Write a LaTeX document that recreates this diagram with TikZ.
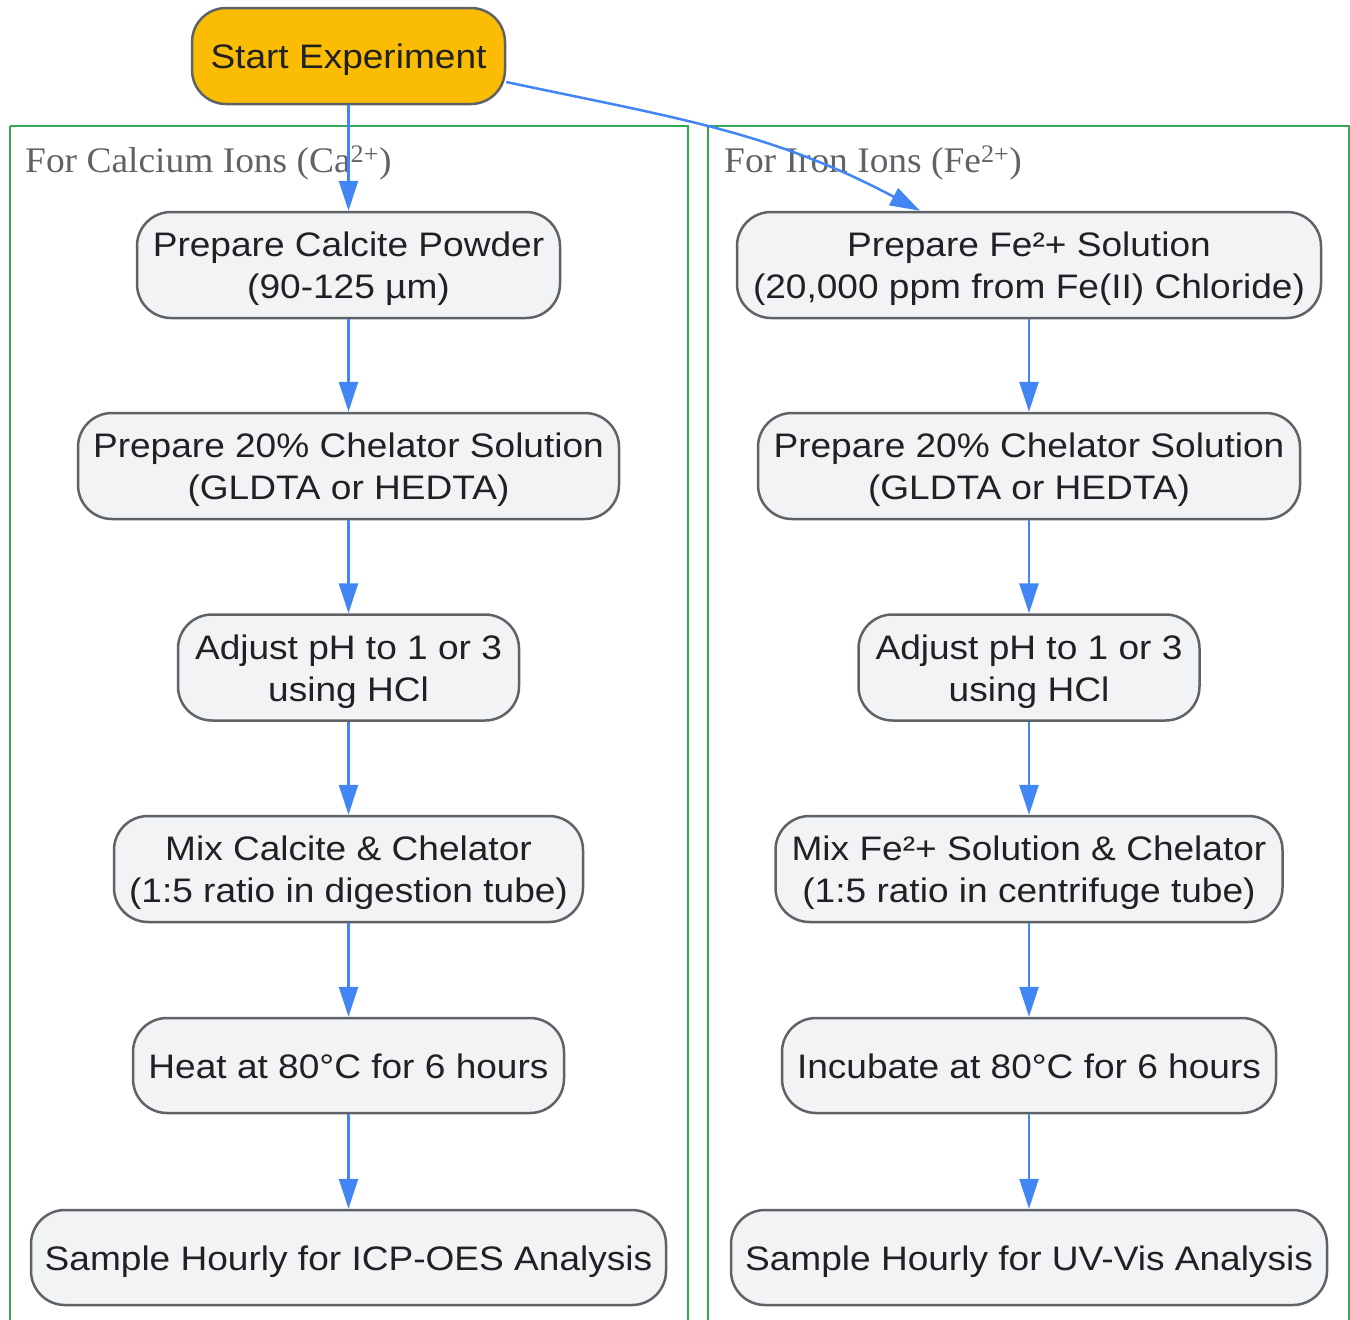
\documentclass[tikz,border=0pt]{standalone}
\usepackage{fontspec}
\setmainfont{Liberation Sans}[FakeStretch=1.09]
\newfontfamily\labelfont{Liberation Serif}[FakeStretch=1.04]
\usetikzlibrary{arrows.meta}
\definecolor{nodefill}{HTML}{F1F3F4}
\definecolor{nodeborder}{HTML}{5F6368}
\definecolor{nodetext}{HTML}{202124}
\definecolor{startfill}{HTML}{FBBC04}
\definecolor{clustergreen}{HTML}{34A853}
\definecolor{arrowblue}{HTML}{4285F4}
\definecolor{labelgray}{HTML}{5F6368}
\tikzset{
  stepbox/.style={draw=nodeborder, line width=2.5pt, fill=nodefill, rounded corners=34pt,
    text=nodetext, align=center, inner sep=0pt, text height=25pt, text depth=-4pt,
    font=\fontsize{34}{42}\selectfont},
  twoline/.style={stepbox, text height=67pt, text depth=-4pt},
  startbox/.style={stepbox, fill=startfill},
  cluster/.style={draw=clustergreen, line width=2pt},
  clusterlabel/.style={anchor=base west, text=labelgray, inner sep=0pt, font=\labelfont\fontsize{36}{42}\selectfont},
  flow/.style={draw=arrowblue, line width=2.5pt, -{Triangle[length=30pt,width=19pt]}},
}
\begin{document}
\begin{tikzpicture}[x=1pt,y=-1pt]
\useasboundingbox (0,0) rectangle (1350,1320);
% clusters
\draw[cluster] (10,126) -- (10,1340) (10,126) -- (688,126) -- (688,1340);
\draw[cluster] (708,126) -- (708,1340) (708,126) -- (1348.5,126) -- (1348.5,1340);
\node[clusterlabel] (labL) at (25,172) {For Calcium Ions (Ca\textsuperscript{2+})};
\node[clusterlabel] (labR) at (724,172) {For Iron Ions (Fe\textsuperscript{2+})};
% start
\node[startbox, minimum width=313pt, minimum height=96pt] (start) at (348.5,56) {Start Experiment};
% left column
\node[twoline, minimum width=423pt, minimum height=106pt] (L1) at (348.5,265) {Prepare Calcite Powder\\(90-125 µm)};
\node[twoline, minimum width=541pt, minimum height=106pt] (L2) at (348.5,466) {Prepare 20\% Chelator Solution\\(GLDTA or HEDTA)};
\node[twoline, minimum width=341pt, minimum height=106pt] (L3) at (348.5,667.5) {Adjust pH to 1 or 3\\using HCl};
\node[twoline, minimum width=469pt, minimum height=106pt] (L4) at (348.5,869) {Mix Calcite \& Chelator\\(1:5 ratio in digestion tube)};
\node[stepbox, minimum width=431pt, minimum height=95pt] (L5) at (348.5,1065.5) {Heat at 80°C for 6 hours};
\node[stepbox, minimum width=635pt, minimum height=95pt] (L6) at (348.5,1257.5) {Sample Hourly for ICP-OES Analysis};
% right column
\node[twoline, minimum width=584pt, minimum height=106pt] (R1) at (1029,265) {Prepare Fe²+ Solution\\(20,000 ppm from Fe(II) Chloride)};
\node[twoline, minimum width=542pt, minimum height=106pt] (R2) at (1029,466) {Prepare 20\% Chelator Solution\\(GLDTA or HEDTA)};
\node[twoline, minimum width=341pt, minimum height=106pt] (R3) at (1029,667.5) {Adjust pH to 1 or 3\\using HCl};
\node[twoline, minimum width=507pt, minimum height=106pt] (R4) at (1029,869) {Mix Fe²+ Solution \& Chelator\\(1:5 ratio in centrifuge tube)};
\node[stepbox, minimum width=494pt, minimum height=95pt] (R5) at (1029,1065.5) {Incubate at 80°C for 6 hours};
\node[stepbox, minimum width=596pt, minimum height=95pt] (R6) at (1029,1257.5) {Sample Hourly for UV-Vis Analysis};
% connectors
\draw[flow] (start.south) -- (L1.north);
\draw[flow] ([yshift=-26pt]start.east) to[out=-12,in=152] ([xshift=-109pt]R1.north);
\foreach \a/\b in {L1/L2,L2/L3,L3/L4,L4/L5,L5/L6,R1/R2,R2/R3,R3/R4,R4/R5,R5/R6}
  \draw[flow] (\a.south) -- (\b.north);
\end{tikzpicture}
\end{document}
